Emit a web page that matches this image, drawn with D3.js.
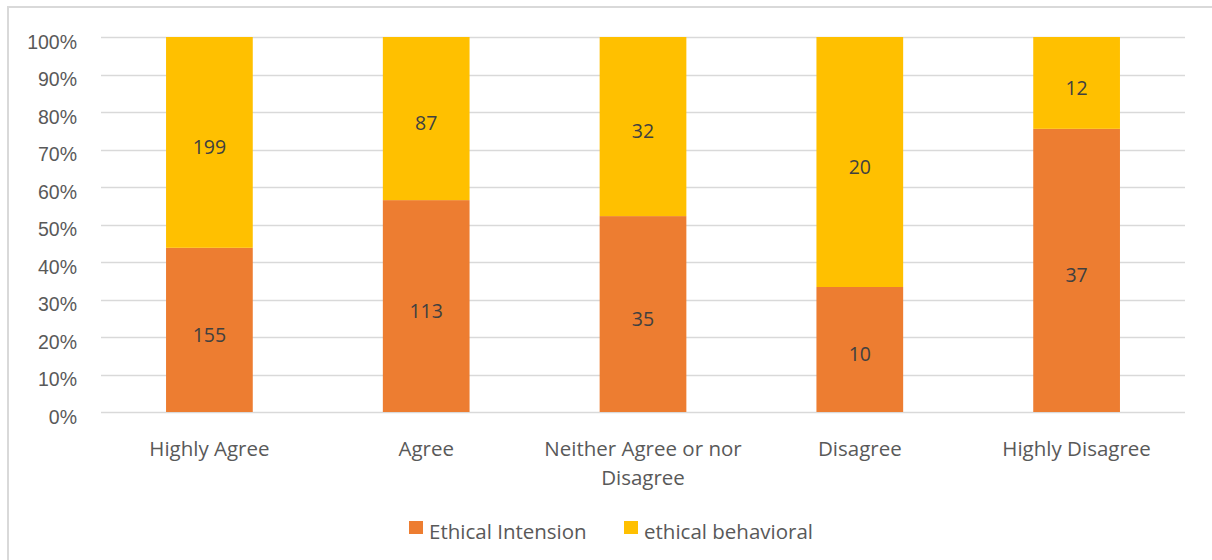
<!DOCTYPE html>
<html>
<head>
<meta charset="utf-8">
<script src="https://cdn.jsdelivr.net/npm/d3@7"></script>
<style>
  html, body { margin: 0; padding: 0; background: #fff; }
  svg { display: block; font-family: "Open Sans", "Noto Sans", sans-serif; }
</style>
</head>
<body>
<svg id="chart" width="1212" height="560"></svg>
<script>
// Response categories and counts for each series
const categories = ["Highly Agree", "Agree", "Neither Agree or nor Disagree", "Disagree", "Highly Disagree"];
const categoryLines = [["Highly Agree"], ["Agree"], ["Neither Agree or nor", "Disagree"], ["Disagree"], ["Highly Disagree"]];
const seriesNames = ["Ethical Intension", "ethical behavioral"];
const intension = [155, 113, 35, 10, 37];
const behavioral = [199, 87, 32, 20, 12];
const tickValues = [0, 0.1, 0.2, 0.3, 0.4, 0.5, 0.6, 0.7, 0.8, 0.9, 1.0];
const colors = ["#ED7D31", "#FFC000"];

const svg = d3.select("#chart");
const textColor = "#595959";
const fontSize = 19.5;
const labelFontSize = 20.5;

// Chart border (left and top edges visible)
svg.append("line").attr("x1", 8).attr("x2", 8).attr("y1", 6).attr("y2", 560)
  .attr("stroke", "#d9d9d9").attr("stroke-width", 2);
svg.append("line").attr("x1", 7).attr("x2", 1212).attr("y1", 7).attr("y2", 7)
  .attr("stroke", "#d9d9d9").attr("stroke-width", 2);

const plot = { left: 101, right: 1185, top: 37, bottom: 412 };

const x = d3.scaleBand().domain(categories).range([plot.left, plot.right]).paddingInner(0.6).paddingOuter(0.3);
const y = d3.scaleLinear().domain([0, 1]).range([plot.bottom, plot.top]);

// Gridlines
svg.append("g").selectAll("line").data(tickValues).join("line")
  .attr("x1", plot.left).attr("x2", plot.right)
  .attr("y1", d => Math.round(y(d)) + 0.5).attr("y2", d => Math.round(y(d)) + 0.5)
  .attr("stroke", "#d9d9d9").attr("stroke-width", 1.5);

// Y axis tick labels
const yAxis = d3.axisLeft(y).tickValues(tickValues).tickFormat(d3.format(".0%")).tickSize(0).tickPadding(0);
const yg = svg.append("g").attr("transform", `translate(${plot.left - 24},4.5)`).call(yAxis);
yg.select(".domain").remove();
yg.selectAll("text").attr("fill", textColor).attr("font-size", fontSize).attr("font-family", null).attr("dy", "0.35em");

// Stacked percentages
const rows = categories.map((c, i) => ({ cat: c, a: intension[i], b: behavioral[i], total: intension[i] + behavioral[i] }));
const segs = [];
rows.forEach(r => {
  segs.push({ cat: r.cat, s: 0, y0: 0, y1: r.a / r.total, v: r.a });
  segs.push({ cat: r.cat, s: 1, y0: r.a / r.total, y1: 1, v: r.b });
});

svg.append("g").selectAll("rect").data(segs).join("rect")
  .attr("x", d => x(d.cat))
  .attr("width", x.bandwidth())
  .attr("y", d => y(d.y1))
  .attr("height", d => y(d.y0) - y(d.y1))
  .attr("fill", d => colors[d.s]);

// Value labels
svg.append("g").selectAll("text").data(segs).join("text")
  .attr("x", d => x(d.cat) + x.bandwidth() / 2)
  .attr("y", d => (y(d.y0) + y(d.y1)) / 2 + 5)
  .attr("dy", "0.35em")
  .attr("text-anchor", "middle")
  .attr("font-size", fontSize)
  .attr("fill", "#404040")
  .text(d => d.v);

// Category labels
const xl = svg.append("g").selectAll("text").data(categories).join("text")
  .attr("x", d => x(d) + x.bandwidth() / 2)
  .attr("y", 456)
  .attr("text-anchor", "middle")
  .attr("font-size", labelFontSize)
  .attr("fill", textColor);
xl.each(function(d, i) {
  const t = d3.select(this);
  categoryLines[i].forEach((line, j) => {
    t.append("tspan").attr("x", x(d) + x.bandwidth() / 2).attr("dy", j === 0 ? 0 : 29).text(line);
  });
});

// Legend
const legendItems = [{ name: seriesNames[0], x: 409 }, { name: seriesNames[1], x: 624 }];
const lg = svg.append("g").selectAll("g").data(legendItems).join("g")
  .attr("transform", d => `translate(${d.x},521)`);
lg.append("rect").attr("width", 14).attr("height", 13).attr("fill", (d, i) => colors[i]);
lg.append("text").attr("x", 20).attr("y", 18).attr("font-size", labelFontSize).attr("fill", textColor).text(d => d.name);
</script>
</body>
</html>
